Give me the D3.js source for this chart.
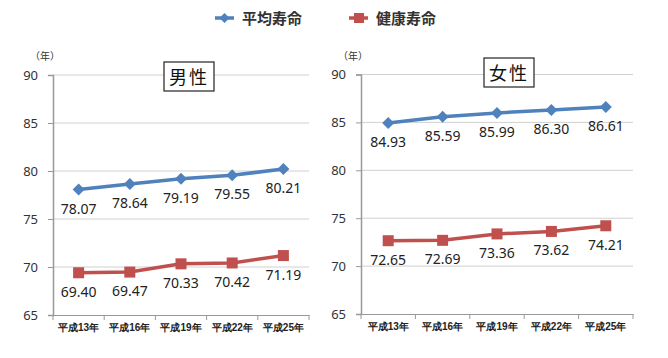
<!DOCTYPE html>
<html><head><meta charset="utf-8">
<script src="https://cdn.jsdelivr.net/npm/d3@7"></script>
<style>body{margin:0;background:#fff;}svg{display:block;font-family:"Noto Sans CJK JP","Noto Sans",sans-serif;}</style>
</head><body>
<svg id="c" width="668" height="358"></svg>
<script>
const categories = ["平成13年","平成16年","平成19年","平成22年","平成25年"];
const seriesNames = ["平均寿命","健康寿命"];
const maleAvg = [78.07, 78.64, 79.19, 79.55, 80.21];
const maleHealth = [69.40, 69.47, 70.33, 70.42, 71.19];
const femaleAvg = [84.93, 85.59, 85.99, 86.30, 86.61];
const femaleHealth = [72.65, 72.69, 73.36, 73.62, 74.21];
const yTicks = [65, 70, 75, 80, 85, 90];
const colors = ["#4F81BD", "#C0504D"];

const svg = d3.select("#c");
const diamond = r => `M0,${-r}L${r},0L0,${r}L${-r},0Z`;

function panel(cfg) {
  const g = svg.append("g");
  const x = d3.scaleBand().domain(categories).range([cfg.x0, cfg.x1]);
  const y = d3.scaleLinear().domain([65, 90]).range([cfg.yb, cfg.yt]);
  g.selectAll(".grid").data(yTicks.slice(1)).join("line")
    .attr("x1", cfg.x0).attr("x2", cfg.x1)
    .attr("y1", d => y(d)).attr("y2", d => y(d))
    .attr("stroke", "#d0d0d0").attr("stroke-width", 1);
  const ya = g.append("g").attr("transform", `translate(${cfg.x0},0)`)
    .call(d3.axisLeft(y).tickValues(yTicks).tickSize(5).tickPadding(10));
  ya.select(".domain").attr("stroke", "#999").attr("stroke-width", 1.5);
  ya.selectAll(".tick line").attr("stroke", "#999");
  ya.selectAll("text").attr("font-size", 13).attr("fill", "#333")
    .attr("font-family", "'Noto Sans',sans-serif");
  const xa = g.append("g").attr("transform", `translate(0,${cfg.yb})`)
    .call(d3.axisBottom(x).tickSize(0).tickPadding(9));
  xa.select(".domain").attr("stroke", "#999").attr("stroke-width", 1);
  xa.selectAll("text").attr("font-size", 10).attr("font-weight", "bold").attr("fill", "#222");
  const bounds = categories.map(c => x(c)).concat([cfg.x1]);
  g.selectAll(".bt").data(bounds).join("line")
    .attr("x1", d => d).attr("x2", d => d)
    .attr("y1", cfg.yb).attr("y2", cfg.yb + 5)
    .attr("stroke", "#999");
  g.append("text").attr("x", cfg.x0 - 8).attr("y", cfg.yt - 15)
    .attr("text-anchor", "middle").attr("font-size", 10).attr("fill", "#333").text("（年）");
  [cfg.avg, cfg.health].forEach((vals, si) => {
    const pts = vals.map((v, i) => [x(categories[i]) + x.bandwidth() / 2, y(v)]);
    g.append("path").attr("d", d3.line()(pts)).attr("fill", "none")
      .attr("stroke", colors[si]).attr("stroke-width", 3.5);
    if (si === 0) {
      g.selectAll(".dm" + si).data(pts).join("path")
        .attr("d", diamond(6))
        .attr("transform", p => `translate(${p[0]},${p[1]})`)
        .attr("fill", colors[si]);
    } else {
      g.selectAll(".sq" + si).data(pts).join("rect")
        .attr("x", p => p[0] - 5.5).attr("y", p => p[1] - 5.5)
        .attr("width", 11).attr("height", 11)
        .attr("fill", colors[si]);
    }
    g.selectAll(".lb" + si).data(vals).join("text")
      .attr("x", (v, i) => pts[i][0]).attr("y", (v, i) => pts[i][1] + 24)
      .attr("text-anchor", "middle").attr("font-size", 14).attr("fill", "#222")
      .attr("font-family", "'Noto Sans',sans-serif")
      .text(v => v.toFixed(2));
  });
  g.append("rect").attr("x", cfg.tx - 25).attr("y", cfg.ty - 15)
    .attr("width", 50).attr("height", 29)
    .attr("fill", "#fff").attr("stroke", "#222").attr("stroke-width", 1.2);
  g.append("text").attr("x", cfg.tx).attr("y", cfg.ty + 7)
    .attr("text-anchor", "middle").attr("font-size", 18).attr("fill", "#111")
    .attr("letter-spacing", 2).text(cfg.title);
}

panel({x0: 53, x1: 309, yt: 75, yb: 315, avg: maleAvg, health: maleHealth, title: "男性", tx: 189, ty: 77});
panel({x0: 361, x1: 633, yt: 74.5, yb: 314, avg: femaleAvg, health: femaleHealth, title: "女性", tx: 509, ty: 73});

const lg = svg.append("g");
const legendPos = [[215, 18], [349, 18]];
seriesNames.forEach((n, i) => {
  const [lx, ly] = legendPos[i];
  lg.append("line").attr("x1", lx).attr("x2", lx + 19).attr("y1", ly).attr("y2", ly)
    .attr("stroke", colors[i]).attr("stroke-width", 3.5);
  if (i === 0) {
    lg.append("path").attr("d", diamond(5))
      .attr("transform", `translate(${lx + 9.5},${ly})`).attr("fill", colors[i]);
  } else {
    lg.append("rect").attr("x", lx + 5).attr("y", ly - 5).attr("width", 10).attr("height", 10)
      .attr("fill", colors[i]);
  }
  lg.append("text").attr("x", lx + 27).attr("y", ly + 6).attr("font-size", 15)
    .attr("fill", "#333").attr("font-weight", "bold").text(n);
});
</script>
</body></html>
